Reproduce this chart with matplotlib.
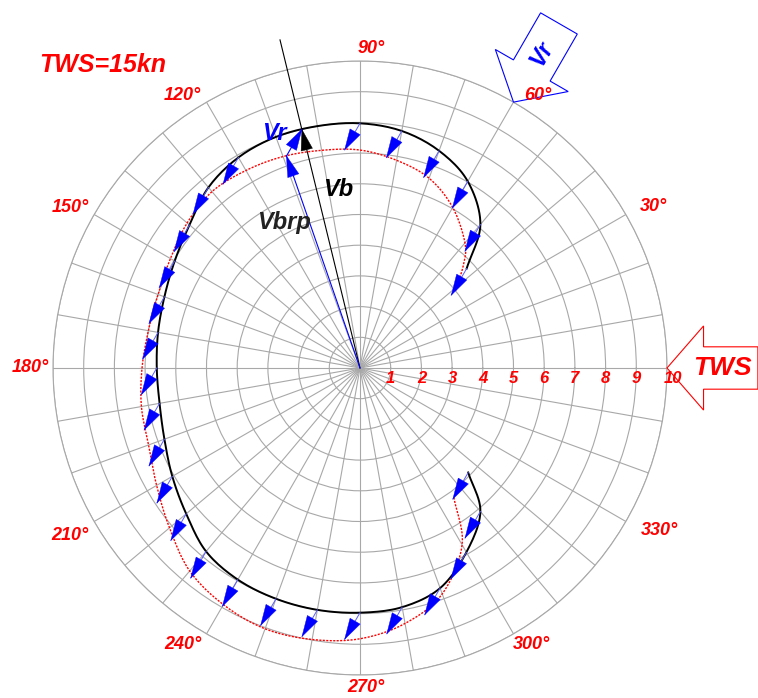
import numpy as np
import matplotlib.pyplot as plt
from matplotlib.patches import Polygon, FancyArrow

# --- dane ---
# Vb - predkosc lodzi (czarna linia), kat [deg], wartosc
vb_kat = [43, 50, 60, 70, 80, 90, 100, 110, 120, 130, 140, 150, 160, 170, 180,
          190, 200, 210, 220, 230, 240, 250, 260, 270, 280, 290, 300, 310, 316]
vb = [4.75, 6.1, 7.02, 7.53, 7.84, 7.97, 8.0, 8.01, 7.92, 7.68, 7.25, 6.97, 6.78,
      6.68, 6.62, 6.63, 6.78, 7.06, 7.39, 7.8, 7.96, 8.0, 8.0, 7.97, 7.91, 7.63,
      6.93, 6.1, 4.9]

# Vbrp (czerwona kropkowana)
vbrp_kat = [39, 45, 50, 60, 70, 80, 90, 100, 110, 120, 130, 140, 150, 160, 170,
            180, 190, 200, 210, 220, 230, 240, 250, 260, 270, 280, 290, 300, 306]
vbrp = [4.0, 4.77, 5.32, 6.04, 6.58, 6.87, 7.1, 7.2, 7.33, 7.43, 7.5, 7.35, 7.13,
        7.0, 7.0, 7.1, 7.23, 7.33, 7.65, 8.1, 8.63, 8.9, 9.04, 8.98, 8.82, 8.45,
        7.83, 6.65, 5.2]

# Vr - predkosc pradu (strzalki)
vr = 1.0
vr_kierunek = 240
strzalki_kat = [43, 50, 60, 70, 80, 90] + list(range(120, 311, 10)) + [316]

# wyrozniony punkt
vb_wyr_kat = 103.7
vb_wyr = 8.0

tws_kat = 0
vr_od_kat = 60
katy_opis = [30, 60, 90, 120, 150, 180, 210, 240, 270, 300, 330]
promienie = [1, 2, 3, 4, 5, 6, 7, 8, 9, 10]

# polozenie opisow katow (kat, promien)
opis_kat = [28.8, 56.9, 88.0, 123.0, 151.0, 180.0, 210.0, 237.4, 271.0, 301.8, 331.6]
opis_r = [10.9, 10.6, 10.42, 10.6, 10.8, 10.75, 10.9, 10.7, 10.4, 10.6, 11.1]

czcionka = dict(family="Liberation Sans", fontweight="bold", fontstyle="italic")
szary = "#a8a8a8"


def xy(kat, r):
    a = np.deg2rad(kat)
    return r * np.cos(a), r * np.sin(a)


def gladko(kat, r, n=12):
    # krzywa Catmull-Rom przez punkty (tylko do rysowania)
    x, y = xy(np.array(kat, dtype=float), np.array(r, dtype=float))
    P = np.column_stack([x, y])
    P = np.vstack([2 * P[0] - P[1], P, 2 * P[-1] - P[-2]])
    t = np.linspace(0, 1, n, endpoint=False)[:, None]
    out = []
    for i in range(1, len(P) - 2):
        p0, p1, p2, p3 = P[i - 1], P[i], P[i + 1], P[i + 2]
        out.append(0.5 * (2 * p1 + (p2 - p0) * t
                          + (2 * p0 - 5 * p1 + 4 * p2 - p3) * t ** 2
                          + (3 * p1 - p0 - 3 * p2 + p3) * t ** 3))
    out.append(P[-2][None])
    Q = np.vstack(out)
    return np.mod(np.arctan2(Q[:, 1], Q[:, 0]), 2 * np.pi), np.hypot(Q[:, 0], Q[:, 1])


def grot(ax, x0, y0, x1, y1, kolor, linia=True, dl=0.68, szer=0.19):
    if linia:
        ax.plot([x0, x1], [y0, y1], color=kolor, lw=0.8, clip_on=False)
    d = np.hypot(x1 - x0, y1 - y0)
    ux, uy = (x1 - x0) / d, (y1 - y0) / d
    bx, by = x1 - ux * dl, y1 - uy * dl
    tri = Polygon([[x1, y1], [bx - uy * szer, by + ux * szer],
                   [bx + uy * szer, by - ux * szer]],
                  closed=True, facecolor=kolor, edgecolor=kolor, lw=0.3, zorder=5)
    ax.add_patch(tri)


fig = plt.figure(figsize=(7.58, 6.98), dpi=100)
rect = [53 / 758, 23 / 698, 614 / 758, 614 / 698]

# --- siatka biegunowa ---
ax = fig.add_axes(rect, projection="polar")
ax.set_theta_zero_location("E")
ax.set_ylim(0, 10)
ax.set_rticks(promienie)
ax.set_yticklabels([])
ax.set_thetagrids(np.arange(0, 360, 10), labels=[""] * 36)
ax.tick_params(length=0)
ax.grid(True, color=szary, lw=0.8)
ax.spines["polar"].set_color(szary)
ax.spines["polar"].set_linewidth(0.8)

t, r = gladko(vbrp_kat, vbrp)
ax.plot(t, r, color="red", lw=1.0, ls=(0, (1.5, 1)))
t, r = gladko(vb_kat, vb)
ax.plot(t, r, color="black", lw=1.4)

# --- warstwa kartezjanska do strzalek i opisow ---
ax2 = fig.add_axes(rect)
ax2.set_xlim(-10, 10)
ax2.set_ylim(-10, 10)
ax2.axis("off")
ax2.patch.set_alpha(0)

vrx, vry = xy(vr_kierunek, vr)
for k in strzalki_kat:
    rr = np.interp(k, vb_kat, vb)
    x0, y0 = xy(k, rr)
    ax2.plot([x0, x0 + vrx], [y0, y0 + vry], color="#5a5aff", lw=0.7)
    grot(ax2, x0, y0, x0 + vrx, y0 + vry, "blue", linia=False)

# wyrozniony trojkat predkosci
bx, by = xy(vb_wyr_kat, vb_wyr)
px, py = bx + vrx, by + vry
ex, ey = xy(vb_wyr_kat, 11.0)
ax2.plot([0, ex], [0, ey], color="black", lw=0.8, clip_on=False)
grot(ax2, 0, 0, bx, by, "black", linia=False)
grot(ax2, 0, 0, px, py, "blue")
grot(ax2, px, py, bx, by, "blue")
ax2.text(-2.8, 7.65, "Vr", color="blue", fontsize=17, ha="center", va="center", **czcionka)
ax2.text(-0.72, 5.8, "Vb", color="black", fontsize=17, ha="center", va="center", **czcionka)
ax2.text(-2.48, 4.75, "Vbrp", color="#222222", fontsize=17, ha="center", va="center", **czcionka)

# duze puste strzalki TWS i Vr
for kat, kolor, napis in [(tws_kat, "red", "TWS"), (vr_od_kat, "blue", "Vr")]:
    tx, ty = xy(kat, 12.96)
    dx, dy = xy(kat + 180, 2.96)
    ax2.add_patch(FancyArrow(tx, ty, dx, dy, width=1.38, head_width=2.74,
                             head_length=1.19, length_includes_head=True,
                             fill=False, edgecolor=kolor, lw=0.8, clip_on=False))
    nx, ny = xy(kat, 11.82)
    ax2.text(nx, ny, napis, color=kolor, fontsize=19 if kat == 0 else 17,
             rotation=kat, ha="center", va="center", rotation_mode="anchor",
             clip_on=False, **czcionka)

# opisy katow i promieni
for k, ka, ro in zip(katy_opis, opis_kat, opis_r):
    x, y = xy(ka, ro)
    ax2.text(x, y, str(k) + "°", color="red", fontsize=13, ha="center",
             va="center", clip_on=False, **czcionka)
for p in promienie:
    ax2.text(p + (0.2 if p == 10 else 0), -0.33, str(p), color="red", fontsize=12,
             ha="center", va="center", clip_on=False, **czcionka)

fig.text(103 / 758, 1 - 65 / 698, "TWS=15kn", color="red", fontsize=18,
         ha="center", va="center", **czcionka)

plt.savefig("out.png", dpi=100)
